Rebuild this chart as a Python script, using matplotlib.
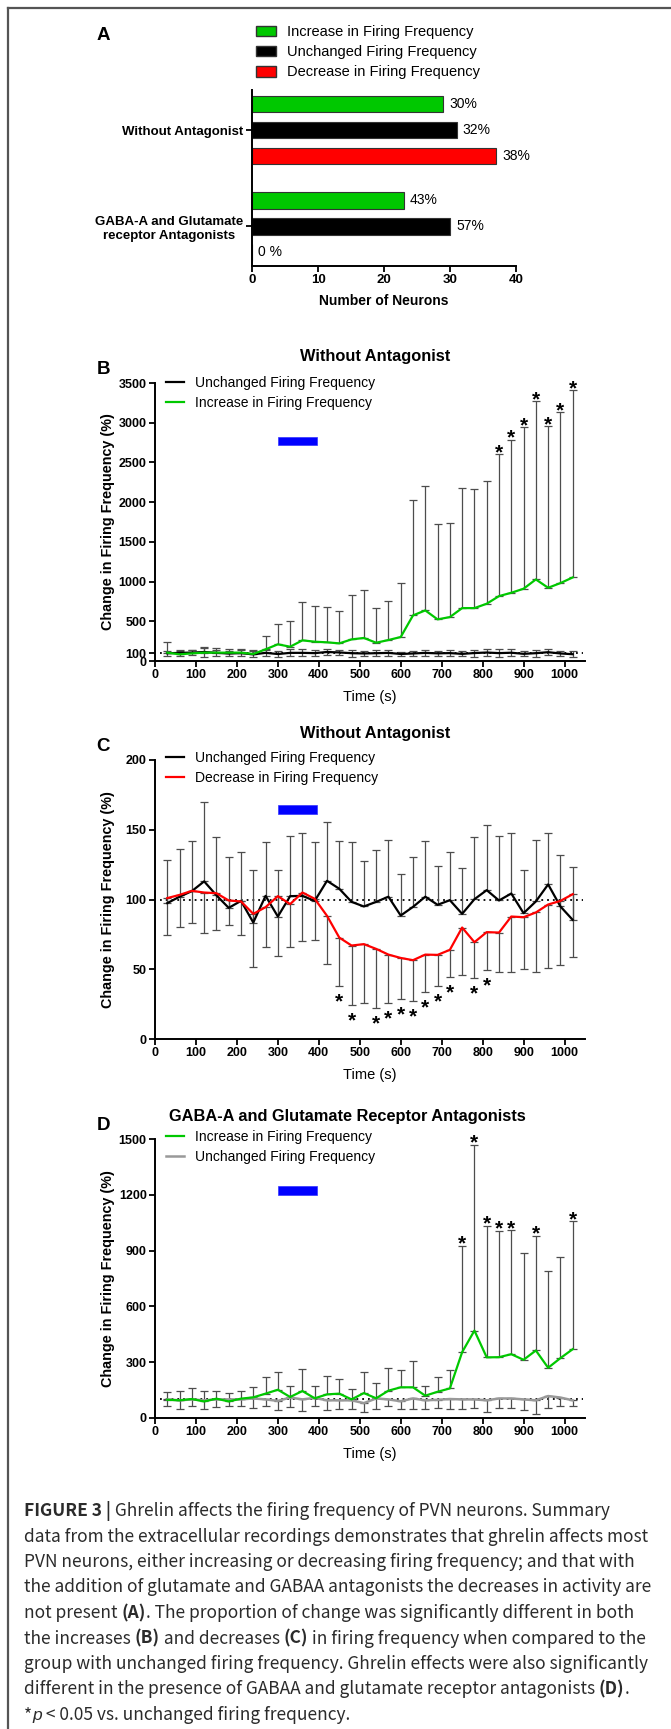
import numpy as np
import matplotlib
matplotlib.use('Agg')
import matplotlib.pyplot as plt
from matplotlib.lines import Line2D
from matplotlib.patches import Patch, Rectangle

# ---------------- data ----------------
# panel A: number of neurons per response type
groups = ["Without Antagonist", "GABA-A and Glutamate\nreceptor Antagonists"]
increase_n = [29, 23]
unchanged_n = [31, 30]
decrease_n = [37, 0]
increase_pct = ["30%", "43%"]
unchanged_pct = ["32%", "57%"]
decrease_pct = ["38%", "0 %"]

# time points (s) for panels B-D
times = [30, 60, 90, 120, 150, 180, 210, 240, 270, 300, 330, 360, 390, 420, 450, 480, 510,
         540, 570, 600, 630, 660, 690, 720, 750, 780, 810, 840, 870, 900, 930, 960, 990, 1020]
ghrelin_on = [300, 395]

# without antagonist - unchanged group (B and C)
unchanged_mean = [97.4, 102, 106, 113, 103, 94, 99, 83.5, 102.6, 87.8, 102.4, 102.6, 99, 113.4,
                  107.7, 98.3, 95, 98.3, 102, 88.5, 94.7, 102, 96.2, 99.5, 89.7, 100.2, 106.7,
                  99.3, 104.3, 90.2, 98.6, 110.8, 95, 85.4]
unchanged_upper = [128, 136, 141.6, 170, 144.7, 130.4, 133.7, 120.8, 140.9, 120.8, 145.7, 147.6,
                   140.9, 155.7, 141.6, 141.1, 127.3, 135.4, 143, 118.2, 130.6, 142.1, 123.7,
                   134.4, 122.7, 144.5, 153.1, 145.5, 147.8, 121.5, 142.3, 147.6, 132, 123.4]

# without antagonist - increase group (B)
increase_mean = [105, 84, 96, 105, 105, 105, 105, 88, 147, 210, 180, 260, 243, 235, 222, 272, 290,
                 230, 264, 302, 574, 637, 524, 553, 666, 666, 721, 817, 859, 910, 1027, 922, 981, 1052]
increase_upper = [243, 126, 134, 168, 163, 147, 147, 134, 314, 461, 499, 746, 696, 683, 625, 830,
                  897, 662, 754, 985, 2024, 2209, 1723, 1739, 2184, 2163, 2268, 2603, 2787, 2942,
                  3269, 2955, 3131, 3412]
sig_B = [840, 870, 900, 930, 960, 990, 1020]

# without antagonist - decrease group (C)
decrease_mean = [101, 103.3, 106.2, 105, 104.5, 99.3, 98.6, 89.7, 94.5, 102.4, 96.7, 105, 100.5,
                 88.3, 72.7, 67, 68, 64.6, 60.5, 58.1, 56.5, 60.5, 60.3, 63.9, 79.9, 69.4, 76.6,
                 76.3, 87.8, 87.3, 90.7, 96.4, 99, 103.8]
decrease_lower = [74.2, 80.4, 83, 76.3, 77.8, 81.6, 74.2, 51.7, 65.6, 59.8, 65.6, 70.1, 70.8, 54,
                  38.3, 24.6, 25.6, 22.5, 25.6, 28.7, 27.5, 34, 38, 44.7, 45.7, 43.5, 49.3, 47.8,
                  48.3, 50, 47.8, 50.7, 52.9, 58.9]
sig_C = [450, 480, 540, 570, 600, 630, 660, 690, 720, 780, 810]

# GABA-A and glutamate receptor antagonists (D)
antag_inc_mean = [98, 95, 102, 89, 104, 89, 104, 111, 131, 152, 113, 145, 106, 127, 131, 100, 134,
                  106, 147, 165, 165, 120, 141, 159, 354, 470, 326, 327, 343, 313, 363, 270, 322, 370]
antag_inc_upper = [141, 143, 159, 147, 147, 134, 143, 166, 222, 249, 174, 265, 170, 224, 211, 157,
                   245, 188, 268, 258, 308, 170, 218, 256, 927, 1470, 1034, 1007, 1011, 886, 980,
                   791, 866, 1057]
antag_unch_mean = [100, 95, 100, 95, 100, 100, 100, 105, 100, 92, 110, 100, 108, 95, 95, 95, 80, 105,
                   100, 90, 105, 95, 98, 102, 100, 100, 95, 105, 105, 100, 95, 118, 110, 95]
antag_unch_lower = [63, 50, 63, 48, 57, 66, 66, 54, 63, 45, 57, 39, 63, 45, 50, 50, 32, 48, 63, 47,
                    47, 50, 54, 50, 47, 52, 32, 54, 54, 41, 21, 55, 66, 63]
sig_D = [750, 780, 810, 840, 870, 930, 1020]

caption_lines = [
    [("FIGURE 3 |", "bold"), (" Ghrelin affects the firing frequency of PVN neurons. Summary", "normal")],
    [("data from the extracellular recordings demonstrates that ghrelin affects most", "normal")],
    [("PVN neurons, either increasing or decreasing firing frequency; and that with", "normal")],
    [("the addition of glutamate and GABAA antagonists the decreases in activity are", "normal")],
    [("not present ", "normal"), ("(A)", "bold"),
     (". The proportion of change was significantly different in both", "normal")],
    [("the increases ", "normal"), ("(B)", "bold"), (" and decreases ", "normal"), ("(C)", "bold"),
     (" in firing frequency when compared to the", "normal")],
    [("group with unchanged firing frequency. Ghrelin effects were also significantly", "normal")],
    [("different in the presence of GABAA and glutamate receptor antagonists ", "normal"),
     ("(D)", "bold"), (".", "normal")],
    [("*", "normal"), ("p", "italic"), (" < 0.05 vs. unchanged firing frequency.", "normal")],
]

# ---------------- layout helpers ----------------
W, H = 671, 1729
plt.rcParams['font.family'] = ['Liberation Sans', 'DejaVu Sans']
CAP_FONT = ['Noto Sans CJK JP', 'Liberation Sans', 'DejaVu Sans']
GREEN = '#00c800'
ERR = '#4d4d4d'


def fx(x):
    return x / W


def fy(y):
    return 1 - y / H


def box(x0, y0, x1, y1):
    return [fx(x0), fy(y1), (x1 - x0) / W, (y1 - y0) / H]


def style_axes(ax, size=9):
    for s in ['top', 'right']:
        ax.spines[s].set_visible(False)
    for s in ['left', 'bottom']:
        ax.spines[s].set_linewidth(1.4)
    ax.tick_params(direction='out', length=4, width=1.3, pad=2)
    for lbl in ax.get_xticklabels() + ax.get_yticklabels():
        lbl.set_fontweight('bold')
        lbl.set_fontsize(size)


fig = plt.figure(figsize=(W / 100, H / 100), dpi=100)

# frame
fig.add_artist(Line2D([fx(8), 1], [fy(8), fy(8)], transform=fig.transFigure, color='#555555', lw=1.6))
fig.add_artist(Line2D([fx(8), fx(8)], [0, fy(8)], transform=fig.transFigure, color='#555555', lw=1.6))

# ---------------- panel A ----------------
axA = fig.add_axes(box(252, 90, 516, 266))
centers = np.array([0, 3.7])
bar_h = 0.65
cI = axA.barh(centers - 1, increase_n, height=bar_h, color=GREEN, edgecolor='#333333', lw=0.8)
cU = axA.barh(centers, unchanged_n, height=bar_h, color='black', edgecolor='#333333', lw=0.8)
cD = axA.barh(centers + 1, decrease_n, height=bar_h, color='#ff0000', edgecolor='#333333', lw=0.8)
for cont, labs in [(cI, increase_pct), (cU, unchanged_pct), (cD, decrease_pct)]:
    axA.bar_label(cont, labels=labs, padding=4.5, fontsize=10)
axA.set_xlim(0, 40)
axA.set_ylim(5.23, -1.54)
axA.set_xticks([0, 10, 20, 30, 40])
axA.set_yticks(centers)
axA.set_yticklabels(groups)
style_axes(axA, 9.5)
for lbl in axA.get_yticklabels():
    lbl.set_multialignment('center')
fig.text(fx(384), fy(301), "Number of Neurons", ha='center', va='center', fontsize=10, fontweight='bold')
fig.text(fx(103), fy(36), "A", ha='center', va='center', fontsize=13.5, fontweight='bold')
axA.legend(handles=[Patch(facecolor=GREEN, edgecolor='#333333'),
                    Patch(facecolor='black', edgecolor='#333333'),
                    Patch(facecolor='#ff0000', edgecolor='#333333')],
           labels=["Increase in Firing Frequency", "Unchanged Firing Frequency",
                   "Decrease in Firing Frequency"],
           loc='upper left', bbox_to_anchor=(fx(256), fy(25)), bbox_transform=fig.transFigure,
           frameon=False, fontsize=10.5, handlelength=1.35, handleheight=0.75,
           handletextpad=0.8, labelspacing=0.42, borderpad=0, borderaxespad=0)


# ---------------- time course panels ----------------
def time_panel(y_top, y_bot, ymax, yticks, rect, title, title_x, title_dy, letter):
    ax = fig.add_axes(box(155, y_top, 585, y_bot))
    ax.set_xlim(0, 1050)
    ax.set_ylim(0, ymax)
    ax.set_xticks(range(0, 1001, 100))
    ax.set_yticks(yticks)
    ax.axhline(100, xmin=12 / 1050, xmax=1045 / 1050, color='black', lw=1.3, ls=(0, (1, 2.2)), zorder=1)
    ax.add_patch(Rectangle((ghrelin_on[0], rect[0]), ghrelin_on[1] - ghrelin_on[0], rect[1] - rect[0],
                           facecolor='#0000ff', edgecolor='#3333ff', lw=0.5))
    style_axes(ax, 9)
    mid = (y_top + y_bot) / 2
    fig.text(fx(108), fy(mid), "Change in Firing Frequency (%)", rotation=90, ha='center', va='center',
             fontsize=10.4, fontweight='bold')
    fig.text(fx(370), fy(y_bot + 36), "Time (s)", ha='center', va='center', fontsize=10.5)
    fig.text(fx(title_x), fy(y_top - title_dy), title, ha='center', va='center', fontsize=11.8,
             fontweight='bold')
    fig.text(fx(103), fy(y_top - 13), letter, ha='center', va='center', fontsize=13.5, fontweight='bold')
    return ax


def errs_up(mean, upper):
    m = np.array(mean)
    return [np.zeros_like(m), np.array(upper) - m]


def errs_down(mean, lower):
    m = np.array(mean)
    return [m - np.array(lower), np.zeros_like(m)]


eb = dict(fmt='none', ecolor=ERR, elinewidth=0.9, capsize=3, capthick=0.9, zorder=2)
star = dict(ha='center', va='baseline', fontsize=15, fontweight='bold', textcoords='offset points')
leg = dict(loc='upper left', bbox_transform=fig.transFigure, frameon=False, fontsize=10,
           handlelength=1.3, handletextpad=0.8, labelspacing=0.42, borderpad=0, borderaxespad=0)

# B
axB = time_panel(383, 661, 3500, [0, 100, 500, 1000, 1500, 2000, 2500, 3000, 3500],
                 (2715, 2825), "Without Antagonist", 375, 27, "B")
um = np.array(unchanged_mean)
uerr = np.array(unchanged_upper) - um
axB.errorbar(times, increase_mean, yerr=errs_up(increase_mean, increase_upper), **eb)
axB.errorbar(times, unchanged_mean, yerr=[uerr, uerr], **eb)
lb1, = axB.plot(times, unchanged_mean, color='black', lw=1.6, zorder=3)
lb2, = axB.plot(times, increase_mean, color=GREEN, lw=1.6, zorder=4)
for t in sig_B:
    axB.annotate('*', (t, increase_upper[times.index(t)]), xytext=(0, -3), **star)
axB.legend([lb1, lb2], ["Unchanged Firing Frequency", "Increase in Firing Frequency"],
           bbox_to_anchor=(fx(166), fy(376)), **leg)

# C
axC = time_panel(760, 1039, 200, [0, 50, 100, 150, 200], (161, 168), "Without Antagonist", 375, 27, "C")
axC.errorbar(times, unchanged_mean, yerr=errs_up(unchanged_mean, unchanged_upper), **eb)
axC.errorbar(times, decrease_mean, yerr=errs_down(decrease_mean, decrease_lower), **eb)
lc1, = axC.plot(times, unchanged_mean, color='black', lw=1.6, zorder=3)
lc2, = axC.plot(times, decrease_mean, color='#ff0000', lw=1.6, zorder=4)
for t in sig_C:
    axC.annotate('*', (t, decrease_lower[times.index(t)]), xytext=(0, -15.5), **star)
axC.legend([lc1, lc2], ["Unchanged Firing Frequency", "Decrease in Firing Frequency"],
           bbox_to_anchor=(fx(166), fy(751)), **leg)

# D
axD = time_panel(1139, 1418, 1500, [0, 300, 600, 900, 1200, 1500], (1200, 1250),
                 "GABA-A and Glutamate Receptor Antagonists", 347, 22, "D")
axD.errorbar(times, antag_inc_mean, yerr=errs_up(antag_inc_mean, antag_inc_upper), **eb)
axD.errorbar(times, antag_unch_mean, yerr=errs_down(antag_unch_mean, antag_unch_lower), **eb)
ld2, = axD.plot(times, antag_unch_mean, color='#999999', lw=1.8, zorder=3)
ld1, = axD.plot(times, antag_inc_mean, color=GREEN, lw=1.6, zorder=4)
for t in sig_D:
    axD.annotate('*', (t, antag_inc_upper[times.index(t)]), xytext=(0, -3), **star)
axD.legend([ld1, ld2], ["Increase in Firing Frequency", "Unchanged Firing Frequency"],
           bbox_to_anchor=(fx(166), fy(1130)), **leg)

# ---------------- caption ----------------
renderer = fig.canvas.get_renderer()


def seg_style(style):
    if style == 'bold':
        return dict(fontweight='bold')
    if style == 'italic':
        # the CJK family has no italic face, so take the slanted p from Liberation Sans
        return dict(fontstyle='italic', family=['Liberation Sans', 'DejaVu Sans'])
    return {}


def seg_width(s, kw):
    t1 = fig.text(0, 0, s + '|', **kw)
    t2 = fig.text(0, 0, '|', **kw)
    w = t1.get_window_extent(renderer).width - t2.get_window_extent(renderer).width
    t1.remove()
    t2.remove()
    return w


def line_width(line, kw):
    return sum(seg_width(s, dict(kw, **seg_style(st))) for s, st in line)


# fit the widest caption line into the text block (24 px to 654 px)
base_kw = dict(fontsize=14, family=CAP_FONT, color='#2b2b2b')
widest = max(line_width(line, base_kw) for line in caption_lines)
cap_kw = dict(base_kw, fontsize=min(14.5, 14 * 628 / widest))

for i, line in enumerate(caption_lines):
    x = 24
    y = 1516 + 25.5 * i
    for s, style in line:
        kw = dict(cap_kw, **seg_style(style))
        fig.text(fx(x), fy(y), s, ha='left', va='baseline', **kw)
        x += seg_width(s, kw)

fig.savefig('out.png', dpi=100)
